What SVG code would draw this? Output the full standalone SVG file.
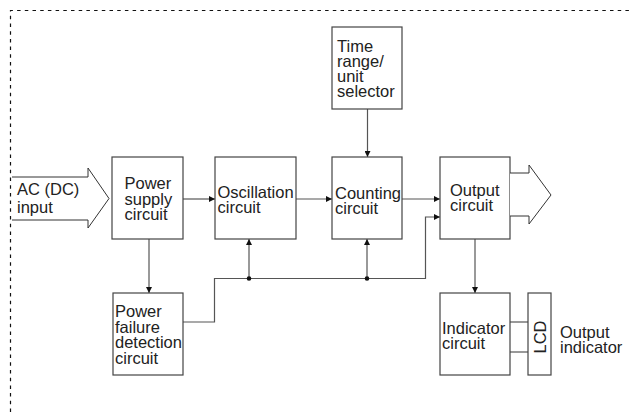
<svg xmlns="http://www.w3.org/2000/svg" width="631" height="412" viewBox="0 0 631 412">
<style>
.box{fill:#fff;stroke:#444;stroke-width:1.2}
.ln{fill:none;stroke:#555;stroke-width:1.2}
.ol{fill:#fff;stroke:#333;stroke-width:1}
text{font-family:"Liberation Sans",Arial,sans-serif;font-size:16.5px;fill:#222}
.border{fill:none;stroke:#111;stroke-width:1.2;stroke-dasharray:3.5 4.2}
</style>
<defs>
<marker id="ah" viewBox="0 0 10 10" refX="10" refY="5" markerWidth="8" markerHeight="6" markerUnits="userSpaceOnUse" orient="auto">
<path d="M0,0 L10,5 L0,10 Z" fill="#111"/>
</marker>
</defs>
<path class="border" d="M10.5,412 L10.5,10.5 L631,10.5"/>
<g id="connectors">
<polyline class="ln" points="183,199 215,199" marker-end="url(#ah)"/>
<polyline class="ln" points="296,199 332,199" marker-end="url(#ah)"/>
<polyline class="ln" points="402,199 440,199" marker-end="url(#ah)"/>
<polyline class="ln" points="367.5,109 367.5,157" marker-end="url(#ah)"/>
<polyline class="ln" points="149,239 149,293" marker-end="url(#ah)"/>
<polyline class="ln" points="475,239 475,293" marker-end="url(#ah)"/>
<polyline class="ln" points="183,322 214.5,322 214.5,278.5 425.5,278.5 425.5,217 440,217" marker-end="url(#ah)"/>
<polyline class="ln" points="249,278.5 249,239" marker-end="url(#ah)"/>
<polyline class="ln" points="367,278.5 367,239" marker-end="url(#ah)"/>
<circle cx="249" cy="278.5" r="2.3" fill="#111"/>
<circle cx="367" cy="278.5" r="2.3" fill="#111"/>
<line class="ln" x1="510" y1="322" x2="528" y2="322"/>
<line class="ln" x1="510" y1="352" x2="528" y2="352"/>
</g>
<g id="ac-input">
<path class="ol" d="M12,177 L88,177 L88,168 L109,198.5 L88,228 L88,220 L12,220" fill="none"/>
<text x="17" y="195">AC (DC)</text>
<text x="17" y="213">input</text>
</g>
<g id="power-supply">
<rect class="box" x="112" y="157" width="71" height="82"/>
<text x="124.5" y="189">Power</text>
<text x="124.5" y="204.5">supply</text>
<text x="124.5" y="220">circuit</text>
</g>
<g id="oscillation">
<rect class="box" x="215" y="157" width="81" height="82"/>
<text x="217.5" y="198">Oscillation</text>
<text x="217.5" y="213">circuit</text>
</g>
<g id="time-range">
<rect class="box" x="332" y="27" width="70" height="82"/>
<text x="337" y="52">Time</text>
<text x="337" y="67">range/</text>
<text x="337" y="82">unit</text>
<text x="337" y="97">selector</text>
</g>
<g id="counting">
<rect class="box" x="332" y="157" width="70" height="82"/>
<text x="335" y="199">Counting</text>
<text x="335" y="214">circuit</text>
</g>
<g id="output-circuit">
<rect class="box" x="440" y="157" width="70" height="82"/>
<text x="450" y="196">Output</text>
<text x="450" y="211">circuit</text>
</g>
<g id="output-arrow">
<path class="ol" d="M510,173 L529,173 L529,165 L551,195 L529,224 L529,216 L510,216" fill="none"/>
</g>
<g id="power-failure">
<rect class="box" x="113" y="293" width="70" height="82"/>
<text x="115" y="317">Power</text>
<text x="115" y="332.5">failure</text>
<text x="115" y="348">detection</text>
<text x="115" y="364">circuit</text>
</g>
<g id="indicator">
<rect class="box" x="440" y="293" width="70" height="82"/>
<text x="442" y="334">Indicator</text>
<text x="442" y="349">circuit</text>
</g>
<g id="lcd">
<rect class="box" x="528" y="293" width="23" height="82"/>
<text x="0" y="0" transform="translate(546,337) rotate(-90)" text-anchor="middle">LCD</text>
</g>
<g id="output-indicator">
<text x="560" y="338">Output</text>
<text x="560" y="353">indicator</text>
</g>
</svg>
